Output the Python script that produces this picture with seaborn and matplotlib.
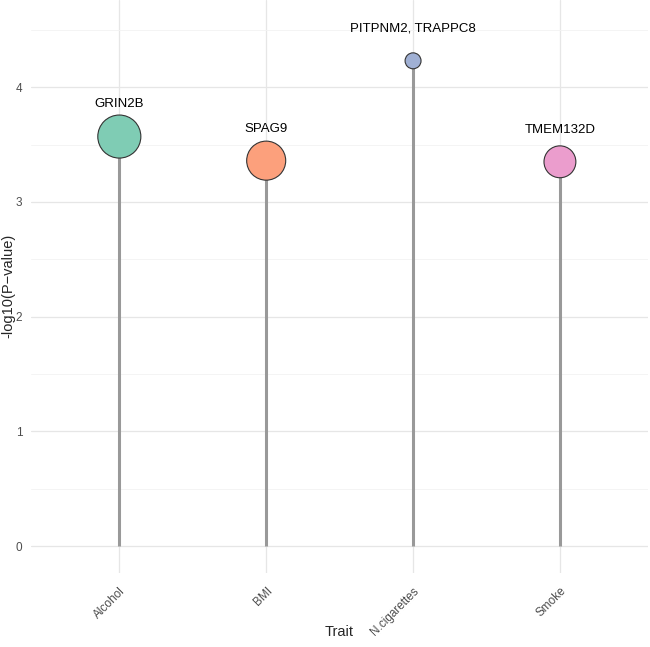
import matplotlib

matplotlib.use("Agg")
import matplotlib.pyplot as plt
import pandas as pd
import seaborn as sns

traits = ["Alcohol", "BMI", "N.cigarettes", "Smoke"]
neg_log_p = [3.57, 3.36, 4.23, 3.35]
genes = ["GRIN2B", "SPAG9", "PITPNM2, TRAPPC8", "TMEM132D"]
n_snps = [7.3, 6.0, 1.0, 4.0]

df = pd.DataFrame({"trait": traits, "logp": neg_log_p, "gene": genes, "n": n_snps})
df["x"] = range(len(df))

sns.set_theme(style="whitegrid")
plt.rcParams["font.family"] = ["Liberation Sans", "DejaVu Sans"]

# Set2, blended a little toward white so the stems do not show through
palette = [sns.blend_palette([c, "white"], 7)[1] for c in sns.color_palette("Set2", 4)]

fig, ax = plt.subplots(figsize=(6.5, 6.47), dpi=100)
fig.subplots_adjust(left=0.048, right=0.997, top=1.0, bottom=0.115)

ax.vlines(df["x"], 0, df["logp"], color="#999999", linewidth=2.2, zorder=2)
sns.scatterplot(
    data=df, x="x", y="logp", hue="trait", palette=palette, size="n",
    sizes=(132, 961), size_norm=(1.0, 7.3),
    edgecolor="#333333", linewidth=0.8, legend=False, zorder=3, ax=ax,
)

for _, row in df.iterrows():
    ax.text(row["x"], row["logp"] + 0.28, row["gene"], ha="center", va="center",
            fontsize=9.5, color="black")

ax.set_xlim(-0.6, len(traits) - 0.4)
ax.set_ylim(-0.23, 4.76)
ax.set_xticks(df["x"])
ax.set_xticklabels(traits, rotation=45, ha="right", rotation_mode="anchor",
                   fontsize=8.5, color="#4d4d4d")
ax.set_yticks([0, 1, 2, 3, 4])
ax.set_yticks([0.5, 1.5, 2.5, 3.5, 4.5], minor=True)
ax.tick_params(axis="y", labelsize=8.5, labelcolor="#4d4d4d", pad=0.5)
ax.tick_params(axis="x", pad=3)
ax.grid(True, which="major", color="#e6e6e6", linewidth=0.9)
ax.grid(True, which="minor", axis="y", color="#f2f2f2", linewidth=0.6)
ax.set_facecolor("white")
for spine in ax.spines.values():
    spine.set_visible(False)

ax.set_xlabel("Trait", fontsize=10.5)
ax.xaxis.set_label_coords(0.5, -0.092)
ax.set_ylabel("-log10(P\u2212value)", fontsize=10.5, va="center")
ax.yaxis.set_label_coords(-0.037, 0.5)

fig.savefig("out.png", dpi=100)
